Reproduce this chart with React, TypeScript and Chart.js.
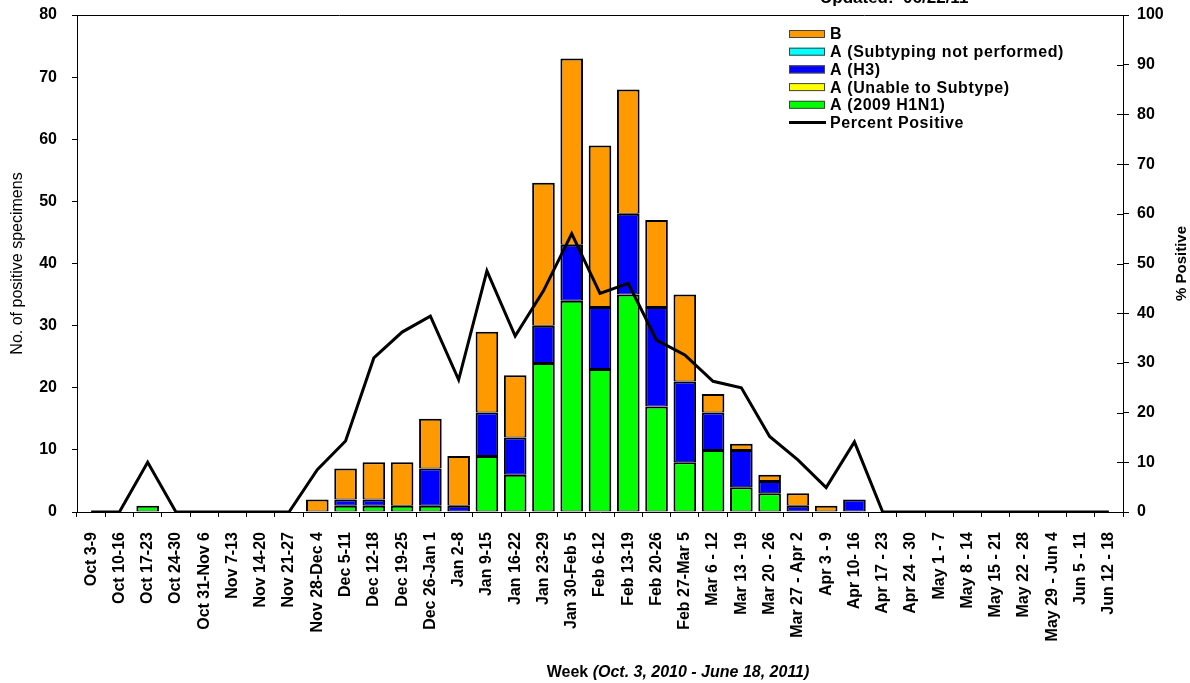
import React, { useEffect, useRef } from "react";
import { Chart, registerables } from "chart.js";

Chart.register(...registerables);

const weeks = [
  "Oct 3-9", "Oct 10-16", "Oct 17-23", "Oct 24-30", "Oct 31-Nov 6", "Nov 7-13", "Nov 14-20",
  "Nov 21-27", "Nov 28-Dec 4", "Dec 5-11", "Dec 12-18", "Dec 19-25", "Dec 26-Jan 1", "Jan 2-8",
  "Jan 9-15", "Jan 16-22", "Jan 23-29", "Jan 30-Feb 5", "Feb 6-12", "Feb 13-19", "Feb 20-26",
  "Feb 27-Mar 5", "Mar 6 - 12", "Mar 13 - 19", "Mar 20 - 26", "Mar 27 - Apr 2", "Apr 3 - 9",
  "Apr 10- 16", "Apr 17 - 23", "Apr 24 - 30", "May 1 - 7", "May 8 - 14", "May 15 - 21",
  "May 22 - 28", "May 29 - Jun 4", "Jun 5 - 11", "Jun 12 - 18",
];

const h1n1_2009 = [0, 0, 1, 0, 0, 0, 0, 0, 0, 1, 1, 1, 1, 0, 9, 6, 24, 34, 23, 35, 17, 8, 10, 4, 3, 0, 0, 0, 0, 0, 0, 0, 0, 0, 0, 0, 0];
const unableToSubtype = [0, 0, 0, 0, 0, 0, 0, 0, 0, 0, 0, 0, 0, 0, 0, 0, 0, 0, 0, 0, 0, 0, 0, 0, 0, 0, 0, 0, 0, 0, 0, 0, 0, 0, 0, 0, 0];
const h3 = [0, 0, 0, 0, 0, 0, 0, 0, 0, 1, 1, 0, 6, 1, 7, 6, 6, 9, 10, 13, 16, 13, 6, 6, 2, 1, 0, 2, 0, 0, 0, 0, 0, 0, 0, 0, 0];
const subtypingNotPerformed = [0, 0, 0, 0, 0, 0, 0, 0, 0, 0, 0, 0, 0, 0, 0, 0, 0, 0, 0, 0, 0, 0, 0, 0, 0, 0, 0, 0, 0, 0, 0, 0, 0, 0, 0, 0, 0];
const fluB = [0, 0, 0, 0, 0, 0, 0, 0, 2, 5, 6, 7, 8, 8, 13, 10, 23, 30, 26, 20, 14, 14, 3, 1, 1, 2, 1, 0, 0, 0, 0, 0, 0, 0, 0, 0, 0];
const percentPositive = [0, 0, 10, 0, 0, 0, 0, 0, 8.5, 14.3, 31, 36.2, 39.4, 26.6, 48.5, 35.4, 44.5, 56, 44, 46, 34.6, 31.6, 26.3, 25, 15.2, 10.5, 4.9, 14.1, 0, 0, 0, 0, 0, 0, 0, 0, 0];

const legendItems = [
  { label: "B", color: "#FF9900", line: false },
  { label: "A (Subtyping not performed)", color: "#00FFFF", line: false },
  { label: "A (H3)", color: "#0000FF", line: false },
  { label: "A (Unable to Subtype)", color: "#FFFF00", line: false },
  { label: "A (2009 H1N1)", color: "#00FF00", line: false },
  { label: "Percent Positive", color: "#000000", line: true },
];

const FONT = "'Liberation Sans', Arial, sans-serif";

const nz = (arr: number[]) => arr.map((v) => (v === 0 ? null : v));

const decorPlugin = {
  id: "decor",
  afterDraw(chart: any) {
    const { ctx, chartArea } = chart;
    const { left, right, top, bottom } = chartArea;
    ctx.save();
    ctx.strokeStyle = "#000";
    ctx.lineWidth = 1;
    ctx.beginPath();
    ctx.moveTo(left, Math.round(top) + 0.5);
    ctx.lineTo(right + 4, Math.round(top) + 0.5);
    ctx.stroke();
    const y1 = chart.scales.y1;
    y1.ticks.forEach((t: any) => {
      const py = Math.round(y1.getPixelForValue(t.value)) + 0.5;
      ctx.beginPath();
      ctx.moveTo(right - 6, py);
      ctx.lineTo(right, py);
      ctx.stroke();
    });

    ctx.fillStyle = "#000";
    ctx.font = `bold 17px ${FONT}`;
    ctx.textAlign = "left";
    ctx.textBaseline = "alphabetic";
    ctx.fillText("Updated:  06/22/11", 820, 3);

    const lx = 789;
    let ly = 34;
    ctx.font = `bold 16px ${FONT}`;
    (ctx as any).letterSpacing = "0.6px";
    ctx.textBaseline = "middle";
    legendItems.forEach((it) => {
      if (it.line) {
        ctx.strokeStyle = "#000";
        ctx.lineWidth = 3;
        ctx.beginPath();
        ctx.moveTo(lx, ly);
        ctx.lineTo(lx + 37, ly);
        ctx.stroke();
      } else {
        ctx.fillStyle = it.color;
        ctx.fillRect(lx, ly - 4, 36, 8);
        ctx.strokeStyle = "#444";
        ctx.lineWidth = 1;
        ctx.strokeRect(lx + 0.5, ly - 3.5, 35, 7);
      }
      ctx.fillStyle = "#000";
      ctx.fillText(it.label, 830, ly + 1);
      ly += 17.7;
    });
    (ctx as any).letterSpacing = "0px";

    ctx.save();
    ctx.translate(18, (top + bottom) / 2);
    ctx.rotate(-Math.PI / 2);
    ctx.textAlign = "center";
    ctx.textBaseline = "middle";
    ctx.font = `16px ${FONT}`;
    ctx.fillText("No. of positive specimens", 0, 0);
    ctx.restore();

    ctx.save();
    ctx.translate(1182, (top + bottom) / 2);
    ctx.rotate(-Math.PI / 2);
    ctx.textAlign = "center";
    ctx.textBaseline = "middle";
    ctx.font = `bold 15px ${FONT}`;
    ctx.fillText("% Positive", 0, 0);
    ctx.restore();

    const p1 = "Week ";
    const p2 = "(Oct. 3, 2010 - June 18, 2011)";
    ctx.textBaseline = "alphabetic";
    ctx.textAlign = "left";
    ctx.font = `bold 16px ${FONT}`;
    const w1 = ctx.measureText(p1).width;
    ctx.font = `italic bold 16px ${FONT}`;
    const w2 = ctx.measureText(p2).width;
    const sx = 678 - (w1 + w2) / 2;
    ctx.font = `bold 16px ${FONT}`;
    ctx.fillText(p1, sx, 677);
    ctx.font = `italic bold 16px ${FONT}`;
    ctx.fillText(p2, sx + w1, 677);
    ctx.restore();
  },
};

export default function App() {
  const ref = useRef<HTMLCanvasElement | null>(null);
  useEffect(() => {
    document.body.style.margin = "0";
    const canvas = ref.current;
    if (!canvas) return;
    const barCommon = {
      type: "bar" as const,
      borderColor: "#000",
      borderWidth: { top: 2, bottom: 1, left: 2, right: 2 },
      borderSkipped: false,
      inflateAmount: 0,
      barPercentage: 0.8,
      categoryPercentage: 1,
      yAxisID: "y",
      stack: "s",
      order: 1,
    };
    const chart = new Chart(canvas, {
      type: "bar",
      data: {
        labels: weeks,
        datasets: [
          {
            type: "line",
            label: "Percent Positive",
            data: percentPositive,
            borderColor: "#000",
            borderWidth: 3,
            pointRadius: 0,
            tension: 0,
            fill: false,
            yAxisID: "y1",
            order: 0,
          } as any,
          { ...barCommon, label: "A (2009 H1N1)", data: nz(h1n1_2009), backgroundColor: "#00FF00" },
          { ...barCommon, label: "A (Unable to Subtype)", data: nz(unableToSubtype), backgroundColor: "#FFFF00" },
          { ...barCommon, label: "A (H3)", data: nz(h3), backgroundColor: "#0000FF" },
          { ...barCommon, label: "A (Subtyping not performed)", data: nz(subtypingNotPerformed), backgroundColor: "#00FFFF" },
          { ...barCommon, label: "B", data: nz(fluB), backgroundColor: "#FF9900" },
        ],
      },
      options: {
        animation: false,
        responsive: false,
        maintainAspectRatio: false,
        devicePixelRatio: 1,
        layout: { padding: { top: 15, left: 0, right: 0, bottom: 0 } },
        plugins: {
          legend: { display: false },
          tooltip: { enabled: false },
          title: { display: false },
        },
        scales: {
          x: {
            stacked: true,
            offset: true,
            grid: {
              display: true,
              drawOnChartArea: false,
              drawTicks: true,
              tickLength: 5,
              color: "#000",
              offset: true,
            },
            border: { display: true, color: "#000", width: 1 },
            ticks: {
              autoSkip: false,
              maxRotation: 90,
              minRotation: 90,
              padding: 15,
              color: "#000",
              font: { family: FONT, size: 16, weight: "bold" },
            },
            afterFit: (s: any) => {
              s.height = 171;
              s.paddingLeft = 0;
              s.paddingRight = 0;
            },
          },
          y: {
            type: "linear",
            position: "left",
            stacked: true,
            min: 0,
            max: 80,
            ticks: {
              stepSize: 10,
              padding: 15,
              color: "#000",
              font: { family: FONT, size: 16, weight: "bold" },
            },
            grid: { display: true, drawOnChartArea: false, tickLength: 5, color: "#000" },
            border: { display: true, color: "#000", width: 1 },
            afterFit: (s: any) => {
              s.width = 77;
              s.paddingTop = 0;
              s.paddingBottom = 0;
            },
          },
          y1: {
            type: "linear",
            position: "right",
            min: 0,
            max: 100,
            ticks: {
              stepSize: 10,
              padding: 8,
              color: "#000",
              font: { family: FONT, size: 16, weight: "bold" },
            },
            grid: { display: true, drawOnChartArea: false, tickLength: 6, color: "#000" },
            border: { display: true, color: "#000", width: 1 },
            afterFit: (s: any) => {
              s.width = 67;
              s.paddingTop = 0;
              s.paddingBottom = 0;
            },
          },
        },
      },
      plugins: [decorPlugin],
    });
    return () => {
      chart.destroy();
    };
  }, []);

  return (
    <div style={{ width: 1190, height: 683, position: "relative", background: "#fff" }}>
      <canvas ref={ref} width={1190} height={683} style={{ width: 1190, height: 683, display: "block" }} />
    </div>
  );
}
